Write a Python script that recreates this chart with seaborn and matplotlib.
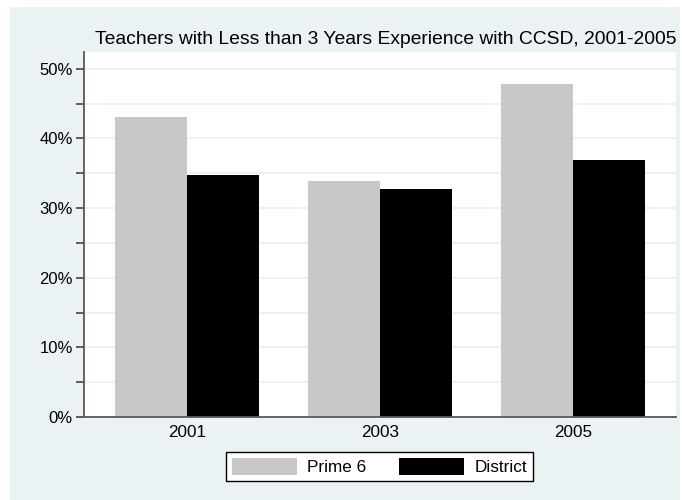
import matplotlib
matplotlib.use("Agg")
import matplotlib.pyplot as plt
import matplotlib.patches as mpatches
from matplotlib.ticker import FixedLocator, FuncFormatter
import seaborn as sns
import pandas as pd

years = ["2001", "2003", "2005"]
prime6 = [43.0, 33.9, 47.8]
district = [34.7, 32.7, 36.9]
series_names = ["Prime 6", "District"]
title = "Teachers with Less than 3 Years Experience with CCSD, 2001-2005"

df = pd.DataFrame({
    "year": years * 2,
    "value": prime6 + district,
    "series": [series_names[0]] * len(years) + [series_names[1]] * len(years),
})

sns.set_theme(style="white")
plt.rcParams["font.family"] = ["Liberation Sans", "DejaVu Sans"]
plt.rcParams["text.color"] = "black"
plt.rcParams["xtick.color"] = "black"
plt.rcParams["ytick.color"] = "black"

BG = "#EAF2F3"
W, H = 682, 500
fig = plt.figure(figsize=(W / 100, H / 100), dpi=100)
fig.patch.set_facecolor("white")
fig.add_artist(mpatches.Rectangle((10 / W, 0), 670 / W, 493 / H,
                                  transform=fig.transFigure, facecolor=BG,
                                  edgecolor="none", zorder=-10))

ax = fig.add_axes([84 / W, (H - 417) / H, (676 - 84) / W, (417 - 52) / H])
ax.set_facecolor("white")

sns.barplot(data=df, x="year", y="value", hue="series", order=years,
            hue_order=series_names,
            palette={"Prime 6": "#C8C8C8", "District": "#000000"},
            width=0.75, gap=0, linewidth=0, saturation=1, ax=ax, legend=False)

ax.set_xlim(-0.535, 2.535)
ax.set_ylim(0, 52.4)
ax.yaxis.set_major_locator(FixedLocator([0, 10, 20, 30, 40, 50]))
ax.yaxis.set_minor_locator(FixedLocator([5, 15, 25, 35, 45]))
ax.yaxis.set_major_formatter(FuncFormatter(lambda v, p: f"{v:.0f}%"))
ax.set_axisbelow(True)
ax.grid(axis="y", which="both", color=BG, linewidth=1.5)
ax.grid(axis="x", visible=False)

for s in ["top", "right"]:
    ax.spines[s].set_visible(False)
for s in ["left", "bottom"]:
    ax.spines[s].set_visible(True)
    ax.spines[s].set_color("#595959")
    ax.spines[s].set_linewidth(1.3)

ax.tick_params(axis="y", which="both", direction="out", length=6, width=1.1,
               color="#333333", labelcolor="black", labelsize=12, pad=2, left=True)
ax.tick_params(axis="x", which="both", length=0, labelsize=12.3,
               labelcolor="black", pad=6)
ax.set_xlabel("")
ax.set_ylabel("")

fig.text(385.5 / W, (H - 44) / H, title, ha="center", va="baseline",
         fontsize=13.9, color="black")

handles = [mpatches.Patch(facecolor="#C8C8C8", edgecolor="none", label="Prime 6"),
           mpatches.Patch(facecolor="#000000", edgecolor="none", label="District")]
leg = fig.legend(handles=handles, loc="center", ncol=2,
                 bbox_to_anchor=(379.5 / W, (H - 466.5) / H),
                 fontsize=12.3, frameon=True, fancybox=False, shadow=False,
                 framealpha=1, edgecolor="black", handlelength=3.8,
                 handleheight=1.15, columnspacing=1.9, handletextpad=0.6,
                 borderpad=0.35, borderaxespad=0)
leg.get_frame().set_linewidth(1.0)
for t in leg.get_texts():
    t.set_color("black")

fig.savefig("out.png", dpi=100, facecolor=fig.get_facecolor())
